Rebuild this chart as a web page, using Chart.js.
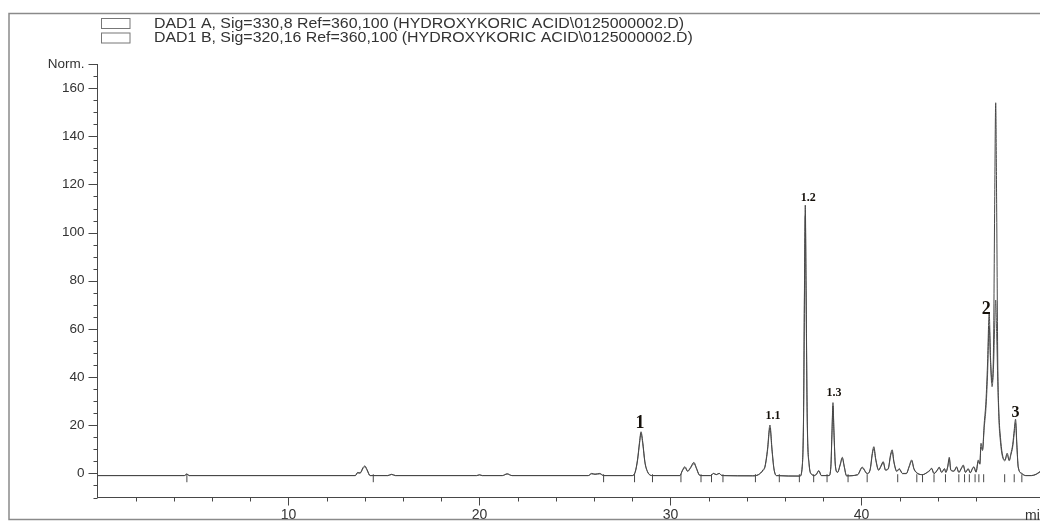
<!DOCTYPE html>
<html>
<head>
<meta charset="utf-8">
<script src="https://cdn.jsdelivr.net/npm/chart.js@4.4.1/dist/chart.umd.min.js"></script>
<style>
  html, body { margin: 0; padding: 0; background: #fff; overflow: hidden; }
  #wrap { position: relative; width: 1040px; height: 523px; }
</style>
</head>
<body>
<div id="wrap"><canvas id="chrom" width="1040" height="523"></canvas></div>
<script>
// ─── Data ──────────────────────────────────────────────────────────────────────
const timeMin = [
  0, 4.55, 4.68, 4.8,
  13.5, 13.62, 13.75, 13.9, 14.0, 14.12, 14.27,
  15.2, 15.4, 15.6, 19.85, 20.0, 20.15, 21.2, 21.45, 21.7,
  25.7, 25.87, 26.05, 26.3, 26.5,
  28.0, 28.15, 28.28, 28.38, 28.46, 28.55, 28.66, 28.8, 29.05,
  30.5, 30.62, 30.76, 30.9, 31.05, 31.23, 31.35, 31.5, 31.6,
  32.1, 32.25, 32.4, 32.55, 32.7,
  34.3, 34.6, 34.85, 34.95, 35.08, 35.21, 35.32, 35.42, 35.55,
  36.78, 36.9, 36.97, 37.02, 37.06, 37.1, 37.16, 37.26, 37.39, 37.55, 37.65, 37.77, 37.9,
  38.3, 38.4, 38.46, 38.51, 38.56, 38.64, 38.75, 38.88, 39.0, 39.1, 39.22,
  39.8, 40.04, 40.3, 40.45, 40.58, 40.65, 40.75, 40.9, 41.04, 41.14, 41.26, 41.4, 41.53, 41.61, 41.7, 41.85, 41.98, 42.15, 42.35, 42.5, 42.63, 42.75, 42.95,
  43.2, 43.45, 43.6, 43.67, 43.8, 44.0, 44.07, 44.2, 44.35, 44.42, 44.52, 44.6, 44.68, 44.85, 44.98, 45.1, 45.25, 45.33, 45.45, 45.59, 45.7, 45.82, 45.89, 46.0,
  46.12, 46.2, 46.26, 46.34, 46.43, 46.52, 46.6, 46.69, 46.76, 46.84, 46.92, 46.98, 47.03, 47.08, 47.14, 47.2, 47.28, 47.37, 47.51, 47.63, 47.74, 47.83, 47.92, 48.0, 48.07, 48.14, 48.21, 48.39,
  48.6, 48.9, 49.15, 49.35
];

// DAD1 A, 330 nm
const sigA = [
  -0.9, -0.9, -0.2, -0.9,
  -0.9, 0.4, 0.2, 2.4, 3.1, 1.5, -0.9,
  -0.9, -0.4, -0.9, -0.9, -0.6, -0.9, -0.9, -0.2, -0.9,
  -0.9, 0, -0.3, 0, -0.9,
  -0.9, 0.5, 6, 13, 17.3, 13, 5, 0.8, -0.9,
  -0.9, 1.2, 2.8, 1.0, 2.5, 4.6, 2.5, -0.5, -0.9,
  -0.9, 0, -0.5, 0, -0.9,
  -1.0, -0.5, 1.5, 3, 10, 20.1, 10, 2, -0.9,
  -1.1, 3, 25, 80, 111.4, 80, 25, 4, -0.3, -0.9, -0.2, 1.2, -0.9,
  -0.9, 3, 18, 29.4, 18, 3, 0.5, 3.5, 6.7, 3, -1,
  -0.5, 2.6, 0, 1.5, 9, 11.1, 6, 1.5, 3.5, 4.9, 1.5, 2, 8, 9.8, 5, 1, 2, 0, 0, 3, 5.6, 2, 0,
  -0.5, 0.5, 1.5, 2.2, 0, 1.8, 2.6, 0.5, 2, 0.5, 3, 6.7, 1.5, 1, 2.8, 0.5, 2.5, 3.5, 0.5, 2, 0.3, 2.2, 2.8, 0.5,
  5.6, 4, 12.5, 10, 20.8, 30, 45, 66.5, 48, 38, 55, 115, 153.9, 112, 45, 25, 15, 8.4, 5.6, 8.4, 5.6, 8.4, 12, 18, 22.5, 12, 2.8, 0,
  -0.9, -0.9, -0.3, 0.8
];

// DAD1 B, 320 nm
const sigB = [
  -0.9, -0.9, -0.3, -0.9,
  -0.9, 0.2, 0.1, 2.0, 2.8, 1.2, -0.9,
  -0.9, -0.4, -0.9, -0.9, -0.6, -0.9, -0.9, -0.2, -0.9,
  -0.9, -0.2, -0.4, -0.2, -0.9,
  -0.9, 0.4, 5.5, 12.3, 16.5, 12.3, 4.6, 0.6, -0.9,
  -0.9, 1.0, 2.4, 0.8, 2.2, 4.1, 2.2, -0.6, -0.9,
  -0.9, 0, -0.5, 0, -0.9,
  -1.0, -0.6, 1.2, 2.6, 9.2, 18.8, 9.2, 1.8, -0.9,
  -1.1, 2.7, 23, 76, 107, 76, 23, 3.6, -0.4, -0.9, -0.3, 1.0, -0.9,
  -0.9, 2.7, 17, 28, 17, 2.7, 0.4, 3.2, 6.2, 2.7, -1,
  -0.6, 2.3, -0.1, 1.3, 8.3, 10.3, 5.5, 1.3, 3.1, 4.5, 1.3, 1.8, 7.4, 9.1, 4.6, 0.8, 1.7, -0.1, -0.1, 2.7, 5.1, 1.8, -0.1,
  -0.5, 0.4, 1.3, 2.0, -0.1, 1.6, 2.4, 0.4, 1.8, 0.4, 2.7, 6.0, 1.3, 0.9, 2.5, 0.4, 2.2, 3.1, 0.4, 1.8, 0.2, 2.0, 2.5, 0.6,
  5.0, 3.8, 11, 9.5, 19, 27, 40, 61, 46, 36, 45, 62, 72, 58, 38, 22, 13, 7.5, 5.2, 7.8, 5.2, 7.8, 11, 16.5, 21, 11, 2.5, 0,
  -0.9, -0.9, -0.4, 0.6
];

// integration start/stop ticks on the baseline
const markTimes = [4.68, 14.44, 26.5, 28.12, 29.06, 30.55, 31.6, 32.15, 32.75, 34.45, 35.7, 36.75, 37.5,
  38.2, 39.3, 40.3, 41.9, 42.9, 43.2, 43.8, 44.4, 45.1, 45.4, 45.65, 45.95, 46.15, 46.4, 47.5, 48.0, 48.4];
const markLevel = -2;

// labelled peaks
const peakNames = ['1', '1.1', '1.2', '1.3', '2', '3'];
const peakTimes = [28.46, 35.21, 37.06, 38.51, 46.69, 48.07];
const peakHeights = [17.3, 20.1, 111.4, 29.4, 66.5, 22.5];

// axes
const xLabelValues = [10, 20, 30, 40];
const yLabelValues = [0, 20, 40, 60, 80, 100, 120, 140, 160];
const yTopLabel = 'Norm.';
const xUnit = 'min';
const legendTexts = [
  'DAD1 A, Sig=330,8 Ref=360,100 (HYDROXYKORIC ACID\\0125000002.D)',
  'DAD1 B, Sig=320,16 Ref=360,100 (HYDROXYKORIC ACID\\0125000002.D)'
];

// ─── Styling ───────────────────────────────────────────────────────────────────
const INK = '#474747';
const TEXT = '#333';
const SANS = '"Liberation Sans", Arial, sans-serif';
const SERIF = '"Liberation Serif", "Times New Roman", serif';
const peakFont = [18, 12, 12, 12, 18, 16];
const peakOffset = [[-1, -8], [3, -9], [3, -7], [1, -10], [-3, -4], [0, -6]];

// ─── Plugins ───────────────────────────────────────────────────────────────────
const decorations = {
  id: 'decorations',
  afterDraw(chart) {
    const { ctx } = chart;
    const xs = chart.scales.x, ys = chart.scales.y;
    ctx.save();

    // outer frame
    ctx.strokeStyle = '#8a8a8a';
    ctx.lineWidth = 1.5;
    ctx.strokeRect(9, 13.5, 1100, 506);

    // tick marks
    ctx.strokeStyle = INK;
    ctx.lineWidth = 1;
    ctx.beginPath();
    ys.ticks.forEach(t => {
      const py = Math.round(ys.getPixelForValue(t.value)) + 0.5;
      const major = yLabelValues.includes(t.value) || t.value === ys.max;
      ctx.moveTo(ys.right - (major ? 9 : 4), py);
      ctx.lineTo(ys.right, py);
    });
    xs.ticks.forEach(t => {
      if (t.value <= 0 || Math.abs(t.value % 2) > 1e-6) return;
      const px = Math.round(xs.getPixelForValue(t.value)) + 0.5;
      const major = xLabelValues.includes(t.value);
      ctx.moveTo(px, xs.top);
      ctx.lineTo(px, xs.top + (major ? 8 : 4));
    });
    ctx.stroke();

    // axis unit, clipped by the canvas edge like the scan
    ctx.fillStyle = TEXT;
    ctx.font = '14px ' + SANS;
    ctx.textBaseline = 'middle';
    ctx.textAlign = 'left';
    ctx.fillText(xUnit, 1025, 516);

    // legend (scan is slightly stretched horizontally)
    ctx.font = '14px ' + SANS;
    const sx = 530 / ctx.measureText(legendTexts[0]).width;
    legendTexts.forEach((txt, i) => {
      const y = 18.5 + i * 14.5;
      ctx.strokeStyle = '#777';
      ctx.lineWidth = 1;
      ctx.strokeRect(101.5, y, 28.5, 10);
      ctx.save();
      ctx.translate(154, y + 5.5);
      ctx.scale(sx, 1);
      ctx.fillStyle = TEXT;
      ctx.fillText(txt, 0, 0);
      ctx.restore();
    });

    // peak names
    ctx.fillStyle = '#15100a';
    ctx.textAlign = 'center';
    peakNames.forEach((name, i) => {
      const px = xs.getPixelForValue(peakTimes[i]) + peakOffset[i][0];
      const py = ys.getPixelForValue(peakHeights[i]) + peakOffset[i][1];
      ctx.font = 'bold ' + peakFont[i] + 'px ' + SERIF;
      ctx.fillText(name, px, py);
    });

    ctx.restore();
  }
};

// ─── Chart ─────────────────────────────────────────────────────────────────────
new Chart(document.getElementById('chrom'), {
  type: 'line',
  data: {
    datasets: [
      {
        label: 'DAD1 A',
        data: timeMin.map((t, i) => ({ x: t, y: sigA[i] })),
        borderColor: INK,
        borderWidth: 1,
        pointRadius: 0,
        cubicInterpolationMode: 'monotone'
      },
      {
        label: 'DAD1 B',
        data: timeMin.map((t, i) => ({ x: t, y: sigB[i] })),
        borderColor: '#5a5a5a',
        borderWidth: 1,
        pointRadius: 0,
        cubicInterpolationMode: 'monotone'
      },
      {
        type: 'scatter',
        label: 'marks',
        data: markTimes.map(t => ({ x: t, y: markLevel })),
        pointStyle: 'line',
        rotation: 90,
        pointRadius: 4,
        borderColor: INK,
        borderWidth: 1,
        showLine: false
      }
    ]
  },
  options: {
    responsive: false,
    devicePixelRatio: 1,
    animation: false,
    layout: { autoPadding: false, padding: { top: 64, left: 0, right: 0, bottom: 0 } },
    plugins: { legend: { display: false }, tooltip: { enabled: false } },
    scales: {
      x: {
        type: 'linear',
        min: 0,
        max: 49.35,
        // label padding must not eat into the plot on the right
        afterFit(s) { s.height = 25.5; s.paddingLeft = 0; s.paddingRight = 0; },
        grid: { display: false, drawTicks: false },
        border: { display: true, color: INK, width: 1 },
        ticks: {
          stepSize: 2,
          autoSkip: false,
          maxRotation: 0,
          padding: 9,
          color: TEXT,
          font: { family: SANS, size: 14 },
          callback: v => xLabelValues.includes(v) ? String(v) : ''
        }
      },
      y: {
        min: -10,
        max: 170,
        afterFit(s) { s.width = 97.5; },
        grid: { display: false, drawTicks: false },
        border: { display: true, color: INK, width: 1 },
        ticks: {
          stepSize: 5,
          autoSkip: false,
          padding: 13,
          color: TEXT,
          font: { family: SANS, size: 13.5 },
          callback: v => v === 170 ? yTopLabel : (yLabelValues.includes(v) ? String(v) : '')
        }
      }
    }
  },
  plugins: [decorations]
});
</script>
</body>
</html>
